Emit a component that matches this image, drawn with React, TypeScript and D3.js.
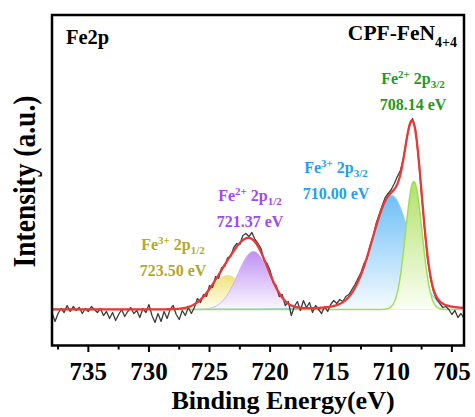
import React from "react";
import * as d3 from "d3";

// Raw spectrum: binding energy from 738 eV down to 704 eV in 0.25 eV steps (a.u.)
const energyStart = 738;
const energyStep = -0.25;
const intensity = [
  -3, -12, -4, 1, -3, 4, -2, 3, -1, 2, -4, 1, -2, 3, 0, -3, 1, -6, -2, -9, -3, -11, -5, 0,
  -7, -2, 2, -4, -1, -8, 1, -3, 5, -6, -13, -4, -12, -2, -9, 0, 4, -5, -10, -1, -6, 2, -4,
  2, 11, 7, 15, 13, 24, 22, 33, 31, 42, 43, 52, 53, 62, 66, 65, 74, 76, 73, 77, 70, 66, 61, 49, 46, 39,
  27, 24, 13, 15, 4, 8, -6, 3, 8, -1, 9, 2, 7, -3, 4, 0, -4, 3, -2, 5, 9, 6, 10, 8,
  13, 15, 20, 25, 31, 37, 46, 51, 64, 73, 86, 95, 104, 112, 116, 120, 126, 133, 139, 151, 170, 184, 191, 180,
  150, 114, 80, 50, 30, 17, 10, 6, 2, 3, 0, -5, -1, -8, -4, -9,
];

// Fitted components
const peakIon = ["3+", "2+", "3+", "2+"];
const peakLevel = ["1/2", "1/2", "3/2", "3/2"];
const peakCenter = [723.5, 721.37, 710.0, 708.14];
const peakHeight = [34, 58, 114, 128];
const peakFwhm = [3.3, 3.06, 3.77, 1.6];
const peakLorentz = [0, 0, 0.15, 0];

const xTicks = [735, 730, 725, 720, 715, 710, 705];
const xMinorTicks = [737.5, 732.5, 727.5, 722.5, 717.5, 712.5, 707.5];

const W = 475;
const H = 417;
const L = 52, R = 464, T = 15, B = 345.5;
const FONT = "'Liberation Serif','Times New Roman',serif";

const labelPos = [
  { x: 173, y: 250 },
  { x: 250, y: 201 },
  { x: 336, y: 173 },
  { x: 413, y: 84 },
];
const textColors = ["#b3a82c", "#a049f0", "#22a0ef", "#1f9a24"];
const gradTop = ["#efe37e", "#bf92f2", "#6fbff6", "#b2e06a"];
const gradBottom = ["#fffef2", "#fbf7ff", "#f5fbff", "#fbfff5"];
const strokeCols = ["#e9df8a", "#cdaaf3", "#8ccdf6", "#a5dc55"];
const strokeW = [1, 1, 1.2, 1.5];

function component(e: number, i: number) {
  const d = e - peakCenter[i];
  const s = peakFwhm[i] / 2.3548;
  const hw = peakFwhm[i] / 2;
  const g = Math.exp((-d * d) / (2 * s * s));
  const l = 1 / (1 + (d / hw) * (d / hw));
  const eta = peakLorentz[i];
  return peakHeight[i] * ((1 - eta) * g + eta * l);
}

export default function App() {
  const x = d3.scaleLinear().domain([738, 704]).range([L, R]);
  const y = d3.scaleLinear().domain([-36, 294.5]).range([B, T]);

  const grid = d3.range(738, 703.99, -0.05);
  const raw = intensity.map((v, i) => [energyStart + i * energyStep, v] as [number, number]);

  const area = (i: number) =>
    d3
      .area<number>()
      .x((e) => x(e))
      .y0(y(0))
      .y1((e) => y(component(e, i)))(grid) || "";
  const line = (i: number) =>
    d3
      .line<number>()
      .x((e) => x(e))
      .y((e) => y(component(e, i)))(grid) || "";
  const envelope =
    d3
      .line<number>()
      .x((e) => x(e))
      .y((e) => y(peakCenter.reduce((s, _c, i) => s + component(e, i), 0)))(grid) || "";
  const rawPath =
    d3
      .line<[number, number]>()
      .x((d) => x(d[0]))
      .y((d) => y(d[1]))(raw) || "";

  return (
    <svg width={W} height={H} style={{ position: "absolute", left: 0, top: 0, background: "#fff" }}>
      <defs>
        {peakCenter.map((_c, i) => (
          <linearGradient key={i} id={`g${i}`} x1="0" y1="0" x2="0" y2="1">
            <stop offset="0%" stopColor={gradTop[i]} />
            <stop offset="100%" stopColor={gradBottom[i]} />
          </linearGradient>
        ))}
        <clipPath id="plot">
          <rect x={L} y={T} width={R - L} height={B - T} />
        </clipPath>
      </defs>
      <rect x={0} y={0} width={W} height={H} fill="#fff" />
      <g clipPath="url(#plot)">
        {peakCenter.map((_c, i) => (
          <g key={`c${i}`}>
            <path d={area(i)} fill={`url(#g${i})`} />
            <path d={line(i)} fill="none" stroke={strokeCols[i]} strokeWidth={strokeW[i]} />
          </g>
        ))}
        <path d={rawPath} fill="none" stroke="#3c3c3c" strokeWidth={1.3} strokeLinejoin="round" />
        <path d={envelope} fill="none" stroke="#e8383a" strokeWidth={2.3} />
      </g>
      <rect x={L} y={T} width={R - L} height={B - T} fill="none" stroke="#000" strokeWidth={2.5} />
      {xTicks.map((t) => (
        <g key={t}>
          <line x1={x(t)} x2={x(t)} y1={B} y2={B + 6.5} stroke="#000" strokeWidth={2} />
          <text
            x={x(t)}
            y={379.5}
            textAnchor="middle"
            fontFamily={FONT}
            fontWeight="bold"
            fontSize={25}
            fill="#000"
          >
            {t}
          </text>
        </g>
      ))}
      {xMinorTicks.map((t) => (
        <line key={t} x1={x(t)} x2={x(t)} y1={B} y2={B + 4} stroke="#000" strokeWidth={2} />
      ))}
      <text x={283} y={409} textAnchor="middle" fontFamily={FONT} fontWeight="bold" fontSize={26} fill="#000">
        Binding Energy(eV)
      </text>
      <text
        transform="translate(35,181.5) rotate(-90) scale(1,1.15)"
        textAnchor="middle"
        fontFamily={FONT}
        fontWeight="bold"
        fontSize={27.5}
        fill="#000"
      >
        Intensity (a.u.)
      </text>
      <text x={66} y={44} fontFamily={FONT} fontWeight="bold" fontSize={20.5} fill="#000">
        Fe2p
      </text>
      <text x={457} y={40} textAnchor="end" fontFamily={FONT} fontWeight="bold" fontSize={21.5} fill="#000">
        CPF-FeN
        <tspan dy={6.5} fontSize={14}>
          4+4
        </tspan>
      </text>
      {peakCenter.map((c, i) => (
        <g key={`t${i}`} fontFamily={FONT} fontWeight="bold" fill={textColors[i]}>
          <text x={labelPos[i].x} y={labelPos[i].y} textAnchor="middle" fontSize={16}>
            <tspan>Fe</tspan>
            <tspan dy={-6} fontSize={11}>
              {peakIon[i]}
            </tspan>
            <tspan dy={6} fontSize={16}>
              {" 2p"}
            </tspan>
            <tspan dy={4} fontSize={11}>
              {peakLevel[i]}
            </tspan>
          </text>
          <text x={labelPos[i].x} y={labelPos[i].y + 26} textAnchor="middle" fontSize={16}>
            {`${c.toFixed(2)} eV`}
          </text>
        </g>
      ))}
    </svg>
  );
}
